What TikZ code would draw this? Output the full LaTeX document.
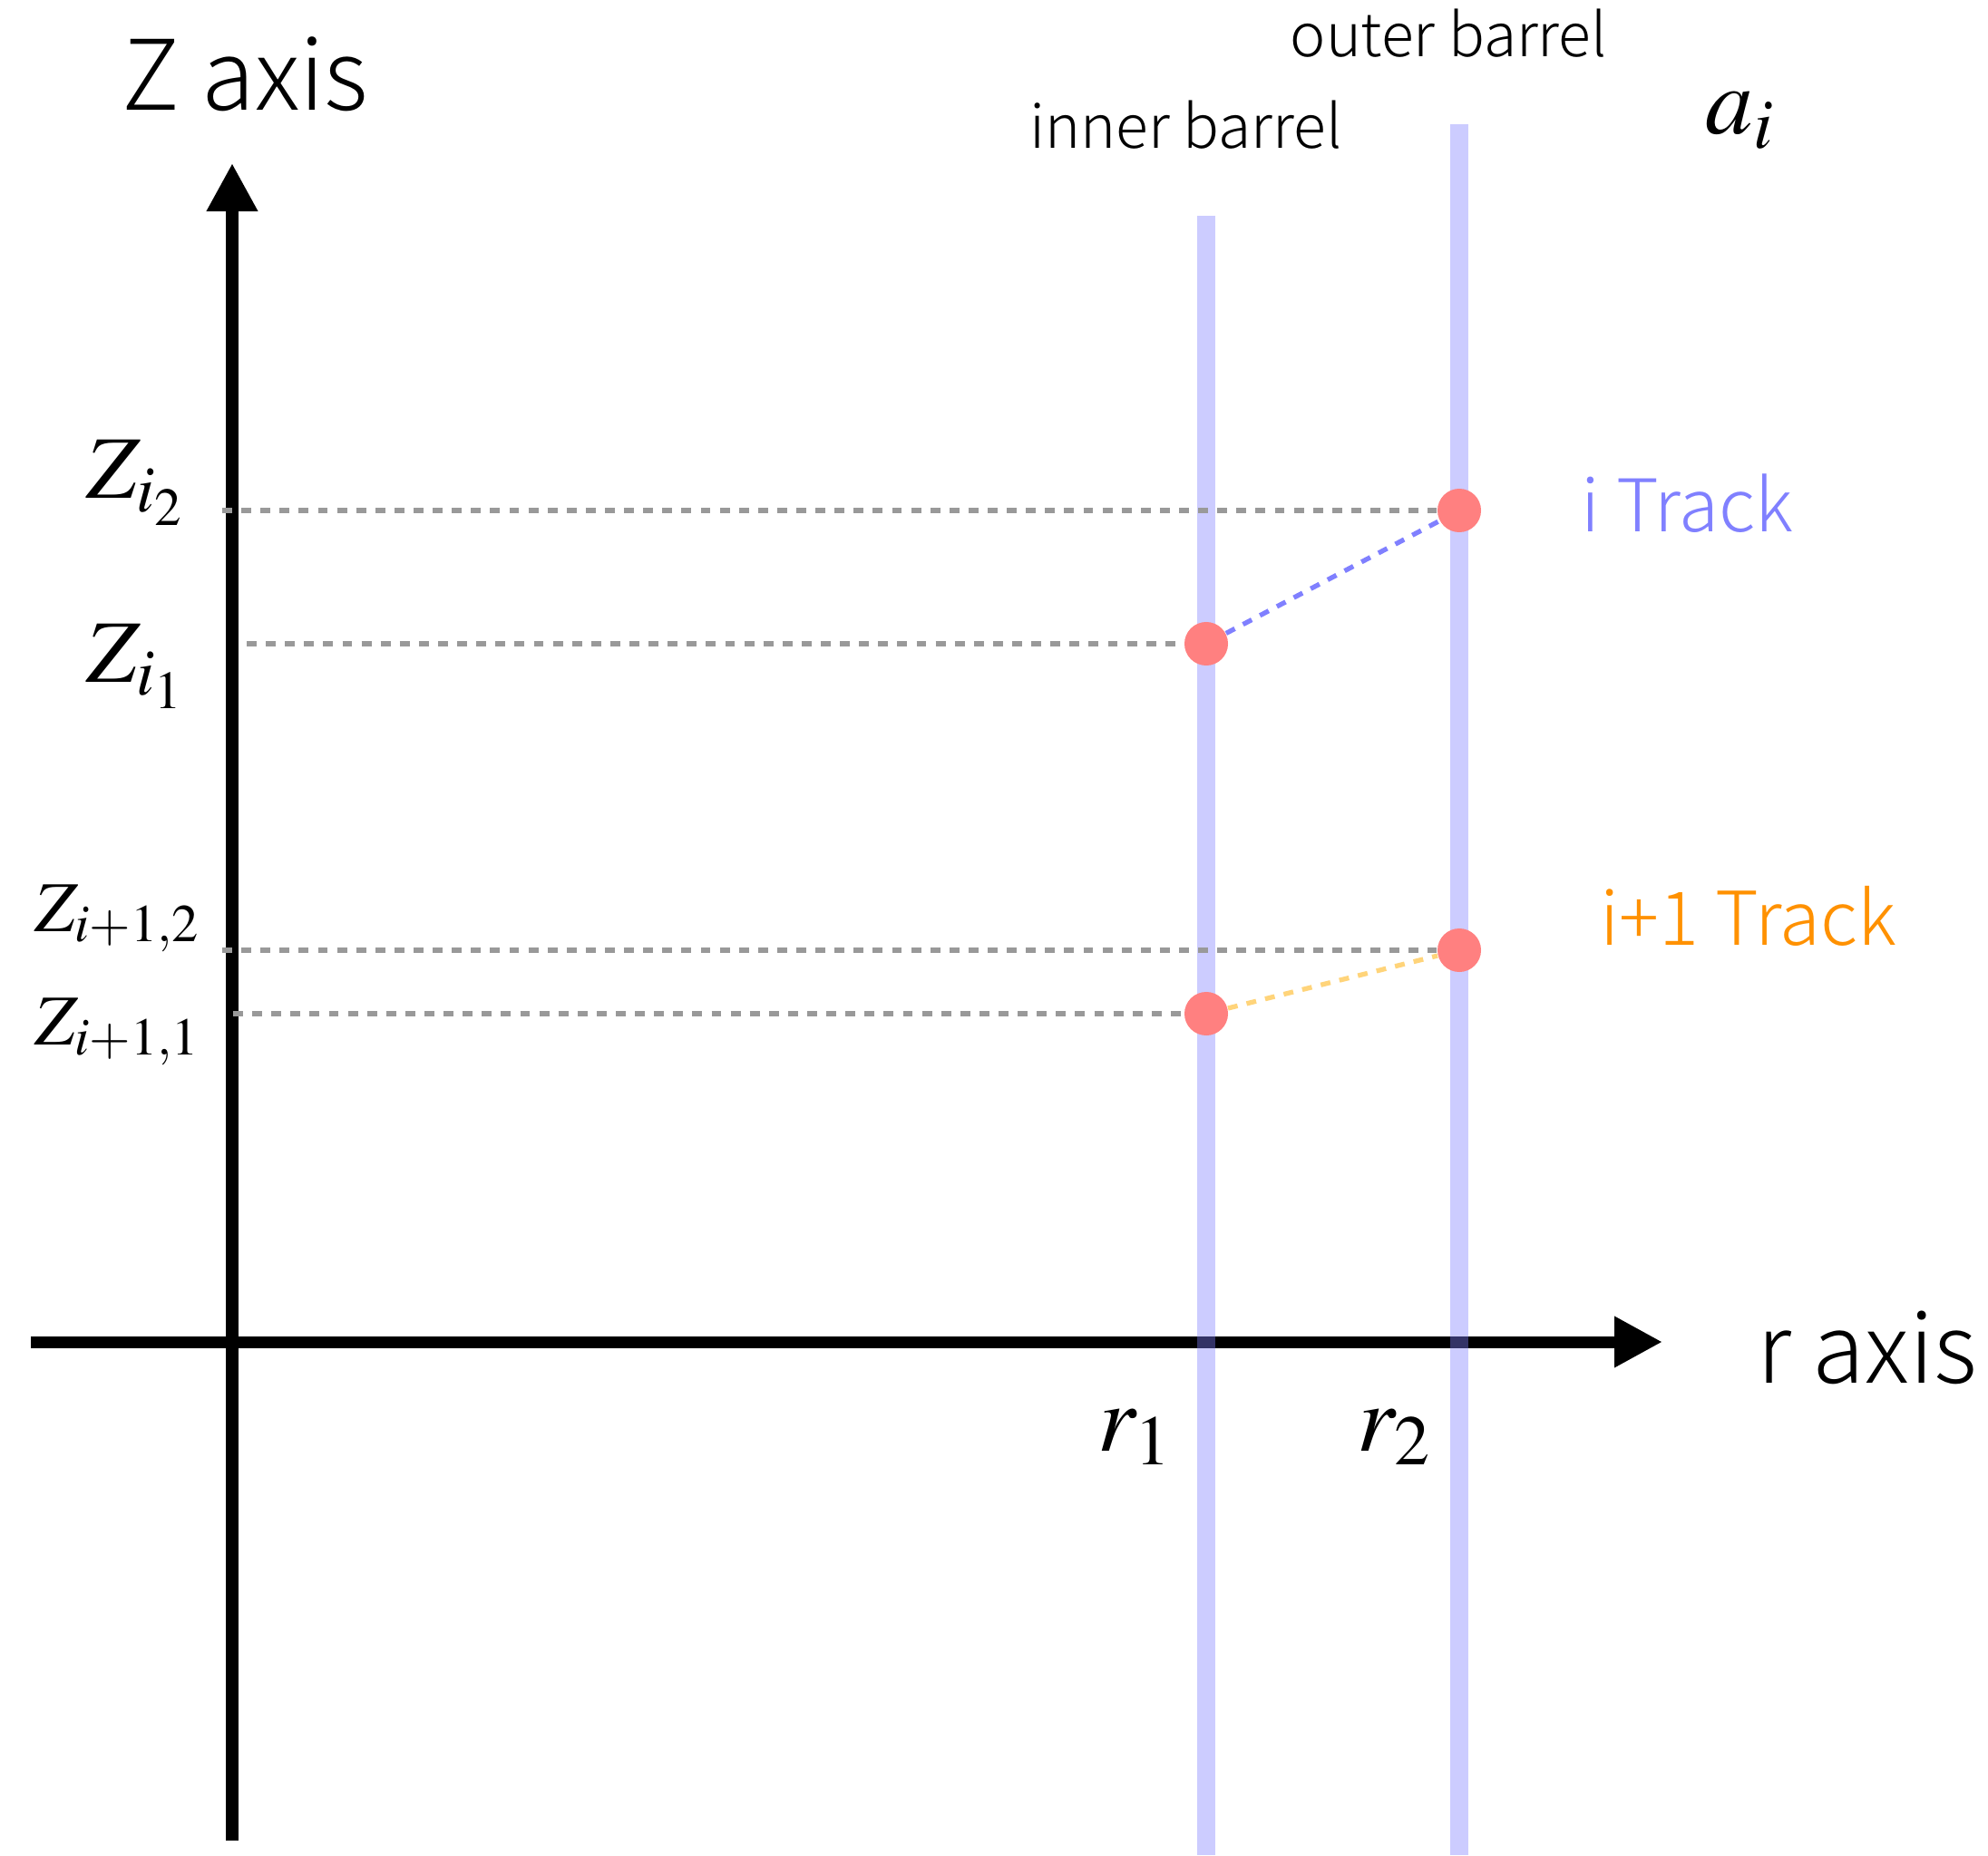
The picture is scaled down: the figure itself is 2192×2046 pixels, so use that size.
\documentclass[tikz,border=0pt]{standalone}
\usepackage[no-math]{fontspec}
\usepackage{mathptmx}
\usepackage{tikz}
\usetikzlibrary{arrows.meta}
\newfontfamily\labelsans{Noto Sans CJK JP Light}
\definecolor{barrelblue}{RGB}{128,128,255}
\definecolor{trackblue}{RGB}{128,128,255}
\definecolor{trackorange}{RGB}{255,145,0}
\definecolor{lineorange}{RGB}{255,212,122}
\definecolor{hitred}{RGB}{255,128,128}
\definecolor{guidegray}{RGB}{153,153,153}

\begin{document}
\begin{tikzpicture}[x=0.01cm, y=-0.01cm,
	lbl/.style={inner sep=0pt, anchor=base west},
	axis/.style={line width=3.7pt, -{Triangle[length=0.53cm, width=0.53cm]}},
	barrel/.style={line width=5.7pt, barrelblue, opacity=0.4},
	guide/.style={guidegray, line width=1.5pt, dash pattern=on 3.1pt off 2.9pt},
	track/.style={line width=1.5pt, dash pattern=on 3.1pt off 2.9pt},
	hit/.style={circle, fill=hitred, inner sep=0pt, minimum size=0.48cm}]
	\useasboundingbox (0,0) rectangle (2192,2046);
	% axes
	\coordinate (zfoot) at (256,2030);
	\coordinate (ztip) at (256,180);
	\coordinate (rfoot) at (34,1480);
	\coordinate (rtip) at (1833,1480);
	\draw [axis] (zfoot) -- (ztip);
	\draw [axis] (rfoot) -- (rtip);
	\node [lbl] (zaxis) at (134,122) {\labelsans\fontsize{30.5}{36}\selectfont Z axis};
	\node [lbl] (raxis) at (1937,1525) {\labelsans\fontsize{30}{36}\selectfont r axis};
	% barrels
	\coordinate (innertop) at (1330,238);
	\coordinate (innerbot) at (1330,2046);
	\coordinate (outertop) at (1609,137);
	\coordinate (outerbot) at (1609,2046);
	\draw [barrel] (innertop) -- (innerbot);
	\draw [barrel] (outertop) -- (outerbot);
	\node [lbl] (innerlbl) at (1135,164) {\labelsans\fontsize{18.8}{22}\selectfont inner barrel};
	\node [lbl] (outerlbl) at (1422,63) {\labelsans\fontsize{18.8}{22}\selectfont outer barrel};
	\node [lbl] (alabel) at (1880,148) {\fontsize{30}{36}\selectfont $a_i$};
	\node [lbl] (rone) at (1210,1600) {\fontsize{30}{36}\selectfont $r_1$};
	\node [lbl] (rtwo) at (1496,1600) {\fontsize{30}{36}\selectfont $r_2$};
	% hits on the two barrels
	\node [hit] (hiti1) at (1330,710) {};
	\node [hit] (hiti2) at (1609,563) {};
	\node [hit] (hitj1) at (1330,1118) {};
	\node [hit] (hitj2) at (1609,1048) {};
	% z values
	\coordinate (gi2) at (245,563);
	\coordinate (gi1) at (272,710);
	\coordinate (gj2) at (245,1048);
	\coordinate (gj1) at (257,1118);
	\draw [guide] (gi2) -- (hiti2);
	\draw [guide] (gi1) -- (hiti1);
	\draw [guide] (gj2) -- (hitj2);
	\draw [guide] (gj1) -- (hitj1);
	\node [lbl] (zi2) at (95,550) {\fontsize{28}{34}\selectfont $Z_{i_2}$};
	\node [lbl] (zi1) at (95,752) {\fontsize{28}{34}\selectfont $Z_{i_1}$};
	\node [lbl] (zj2) at (38,1027) {\fontsize{22.5}{28}\selectfont $Z_{i+1,2}$};
	\node [lbl] (zj1) at (38,1152) {\fontsize{22.5}{28}\selectfont $Z_{i+1,1}$};
	% tracks
	\draw [track, trackblue] (hiti1) -- (hiti2);
	\draw [track, lineorange] (hitj1) -- (hitj2);
	\node [lbl, trackblue] (itrack) at (1743,587) {\labelsans\fontsize{22.8}{28}\selectfont i Track};
	\node [lbl, trackorange] (jtrack) at (1764,1042) {\labelsans\fontsize{23.3}{28}\selectfont i+1 Track};
\end{tikzpicture}
\end{document}
